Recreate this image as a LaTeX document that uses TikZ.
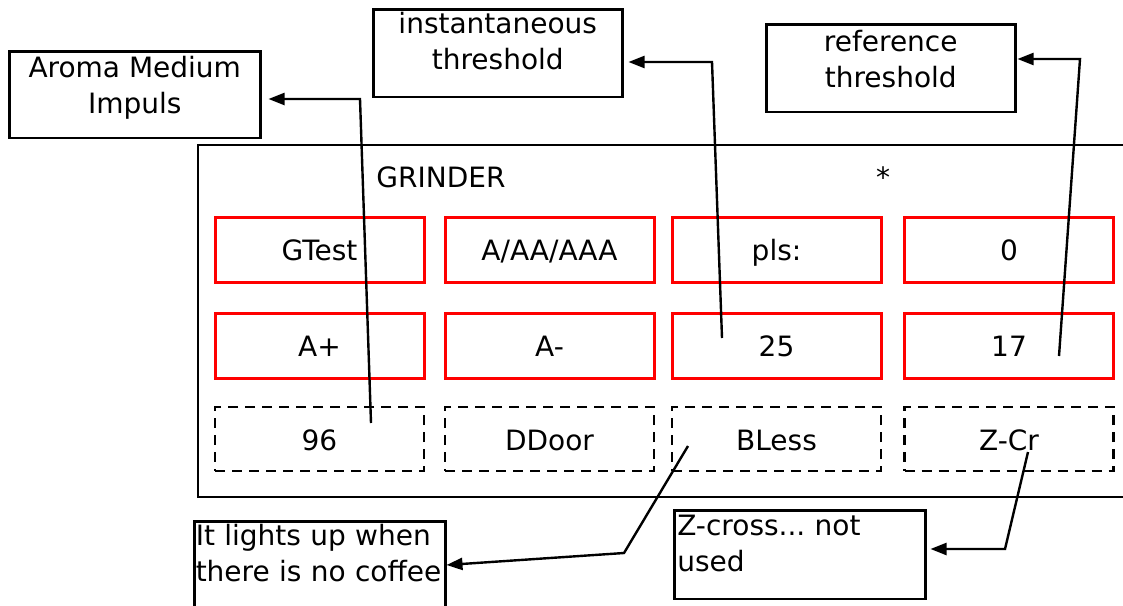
\documentclass[tikz,border=0pt]{standalone}
\usepackage{fontspec}
\setmainfont{DejaVu Sans}
\usetikzlibrary{arrows.meta}
\frenchspacing

\tikzset{
  txt/.style={font=\fontsize{28}{36}\selectfont},
  cell/.style={txt, draw=red, line width=3pt, minimum width=209pt,
    minimum height=65pt, text height=22pt, text depth=0pt, inner sep=0pt},
  dcell/.style={txt, draw, dash pattern=on 10pt off 7pt, line width=2.5pt,
    minimum width=209pt, minimum height=64pt, text height=22pt,
    text depth=0pt, inner sep=0pt},
  callout/.style={txt, draw, line width=2.5pt, anchor=north west,
    minimum width=251pt, align=center, inner xsep=2pt},
  conn/.style={line width=2.4pt, -{Triangle[length=16pt,width=12pt]}},
}

\begin{document}
\begin{tikzpicture}[x=1pt, y=-1pt]
  \useasboundingbox (0,0) rectangle (1123,605);
  \clip (0,0) rectangle (1123,605);
  % grinder panel, open to the right
  \draw[line width=2.8pt] (198,145) rectangle (1140,497);
  \node[txt] (title) at (441,177) {GRINDER};
  \node[txt] (star) at (883,177) {*};
  % display cells
  \node[cell] (gtest) at (319.5,249.5) {GTest};
  \node[cell] (grade) at (549.5,249.5) {A/AA/AAA};
  \node[cell] (pls) at (776.5,249.5) {pls:};
  \node[cell] (zero) at (1009,249.5) {0};
  \node[cell] (aplus) at (319.5,345.5) {A+};
  \node[cell] (aminus) at (549.5,345.5) {A-};
  \node[cell] (inst) at (776.5,345.5) {25};
  \node[cell] (ref) at (1009,345.5) {17};
  \node[dcell] (medium) at (319.5,439) {96};
  \node[dcell] (ddoor) at (549.5,439) {DDoor};
  \node[dcell] (bless) at (776.5,439) {BLess};
  \node[dcell] (zcr) at (1009,439) {Z-Cr};
  % callouts
  \node[callout, inner ysep=5pt, text depth=19.7pt] (aroma) at (8,50)
    {Aroma Medium\\Impuls};
  \node[callout, inner ysep=3pt, text depth=24.7pt, minimum width=249pt]
    (instlbl) at (372,8) {instantaneous\\threshold};
  \node[callout, inner ysep=6pt, text depth=18.7pt, minimum width=249pt]
    (reflbl) at (765,23) {reference\\threshold};
  \node[callout, align=left, text width=248pt, inner xsep=1pt,
    inner ysep=3pt, text depth=82.7pt] (nocoffee) at (193,520)
    {It lights up when\\there is no coffee};
  \node[callout, align=left, text width=245pt, inner xsep=3pt,
    inner ysep=5pt, text depth=58.5pt] (zcross) at (673,509)
    {Z-cross... not\\used};
  % leader lines
  \coordinate (p96) at (371,423);
  \coordinate (k96) at (360,99);
  \coordinate (p25) at (722,338);
  \coordinate (k25) at (712,62);
  \coordinate (p17) at (1059,356);
  \coordinate (k17) at (1080,59);
  \coordinate (pbl) at (688,446);
  \coordinate (kbl) at (624,553);
  \coordinate (pzc) at (1028,452);
  \coordinate (kzc) at (1005,549);
  \draw[conn] (p96) -- (k96) -- ([xshift=7pt]k96 -| aroma.east);
  \draw[conn] (p25) -- (k25) -- ([xshift=5pt]k25 -| instlbl.east);
  \draw[conn] (p17) -- (k17) -- ([xshift=1pt]k17 -| reflbl.east);
  \draw[conn] (pbl) -- (kbl) -- ([yshift=-12pt]kbl -| nocoffee.east);
  \draw[conn] (pzc) -- (kzc) -- ([xshift=4pt]kzc -| zcross.east);
\end{tikzpicture}
\end{document}
